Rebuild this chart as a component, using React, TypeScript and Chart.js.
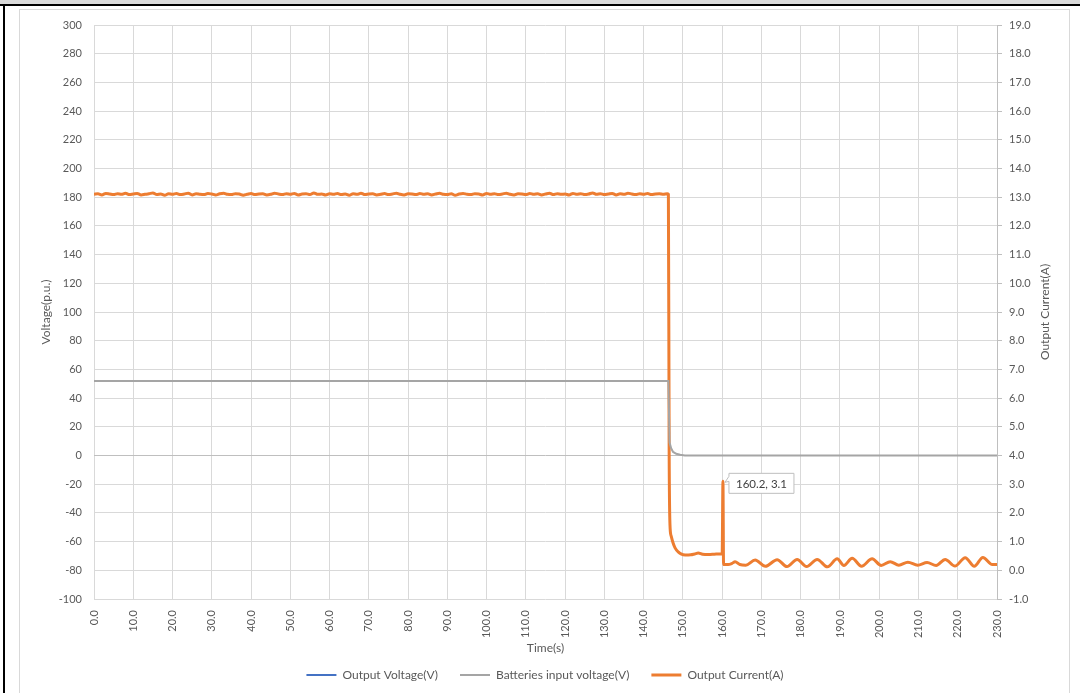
import React, { useEffect, useRef } from "react";
import { Chart, registerables } from "chart.js";

Chart.register(...registerables);

// ---------- data ----------
// Output current (A), one sample per second from 0 s to 146 s (steady state)
const currentSteadyValues: number[] = [
  13.10, 13.12, 13.08, 13.13, 13.11, 13.09, 13.12, 13.10, 13.14, 13.09,
  13.11, 13.13, 13.08, 13.10, 13.12, 13.15, 13.09, 13.11, 13.07, 13.12,
  13.10, 13.13, 13.09, 13.11, 13.14, 13.08, 13.12, 13.10, 13.09, 13.13,
  13.11, 13.08, 13.12, 13.14, 13.10, 13.09, 13.12, 13.11, 13.07, 13.10,
  13.13, 13.09, 13.11, 13.12, 13.08, 13.10, 13.14, 13.11, 13.09, 13.12,
  13.10, 13.13, 13.08, 13.11, 13.12, 13.09, 13.15, 13.10, 13.11, 13.08,
  13.12, 13.10, 13.13, 13.09, 13.11, 13.07, 13.12, 13.10, 13.14, 13.09,
  13.11, 13.12, 13.08, 13.10, 13.13, 13.09, 13.11, 13.14, 13.10, 13.08,
  13.12, 13.11, 13.09, 13.13, 13.10, 13.12, 13.08, 13.11, 13.14, 13.10,
  13.09, 13.12, 13.07, 13.11, 13.13, 13.10, 13.09, 13.12, 13.11, 13.08,
  13.13, 13.10, 13.12, 13.09, 13.11, 13.14, 13.10, 13.08, 13.12, 13.11,
  13.09, 13.13, 13.10, 13.12, 13.08, 13.11, 13.14, 13.09, 13.12, 13.10,
  13.11, 13.08, 13.13, 13.10, 13.12, 13.09, 13.11, 13.15, 13.10, 13.12,
  13.09, 13.11, 13.13, 13.08, 13.12, 13.10, 13.14, 13.11, 13.09, 13.12,
  13.10, 13.13, 13.09, 13.11, 13.12, 13.10, 13.12,
];

// Output current (A) after the fault, irregular time stamps (s)
const currentTransientTimes: number[] = [
  146.3, 146.5, 146.7, 147.0, 147.5, 148.0, 148.8, 149.5, 150.6, 152.0,
  153.0, 153.9, 155.0, 156.5, 158.0, 159.4, 160.0, 160.2, 160.35, 161.5,
  162.5, 163.3, 164.5, 166.0, 168.4, 171.0, 174.0, 176.5, 179.1, 181.5,
  184.2, 186.8, 189.3, 191.0, 193.1, 195.5, 198.2, 200.5, 202.8, 205.0,
  207.3, 209.8, 212.2, 214.5, 216.8, 219.3, 221.9, 224.2, 226.4, 228.8,
  230.0,
];
const currentTransientValues: number[] = [
  13.10, 4.00, 1.60, 1.20, 0.95, 0.78, 0.64, 0.57, 0.53, 0.54,
  0.57, 0.60, 0.56, 0.55, 0.56, 0.57, 0.57, 3.10, 0.20, 0.20,
  0.24, 0.30, 0.20, 0.18, 0.36, 0.14, 0.37, 0.13, 0.38, 0.13,
  0.38, 0.12, 0.40, 0.17, 0.42, 0.14, 0.40, 0.17, 0.30, 0.18,
  0.28, 0.18, 0.27, 0.17, 0.38, 0.15, 0.44, 0.14, 0.45, 0.20,
  0.20,
];

// Batteries input voltage (V)
const batteryTimes: number[] = [0, 146.3, 146.6, 147.0, 147.5, 148.3, 149.3, 150.5, 230];
const batteryValues: number[] = [52, 52, 9, 5, 2.5, 1.2, 0.5, 0, 0];

// Output voltage (V): no visible trace in the reference
const outputVoltageTimes: number[] = [];
const outputVoltageValues: number[] = [];

const seriesNames = ["Output Voltage(V)", "Batteries input voltage(V)", "Output Current(A)"];
const seriesColors = ["#4472C4", "#A5A5A5", "#ED7D31"];

const xAxisRange = { min: 0, max: 230, step: 10 };
const leftAxisRange = { min: -100, max: 300, step: 20 };
const rightAxisRange = { min: -1, max: 19, step: 1 };

const xAxisTitle = "Time(s)";
const leftAxisTitle = "Voltage(p.u.)";
const rightAxisTitle = "Output Current(A)";

const calloutPoint = { x: 160.2, y: 3.1 };
const calloutLabel = "160.2, 3.1";

// ---------- helpers ----------
const FONT = "Lato, 'Noto Sans', sans-serif";
const TEXT = "#595959";
const GRID = "#d9d9d9";

function zip(xs: number[], ys: number[]) {
  return xs.map((x, i) => ({ x, y: ys[i] }));
}

const overlayPlugin = {
  id: "overlay",
  afterDatasetsDraw(chart: any) {
    const { ctx, scales } = chart;
    const px = scales.x.getPixelForValue(calloutPoint.x);
    const py = scales.y1.getPixelForValue(calloutPoint.y);
    ctx.save();
    ctx.font = `11.5px ${FONT}`;
    const tw = ctx.measureText(calloutLabel).width;
    const x0 = px + 6;
    const y0 = py - 8;
    const w = tw + 14;
    const h = 20;
    ctx.beginPath();
    ctx.moveTo(x0, y0);
    ctx.lineTo(x0 + w, y0);
    ctx.lineTo(x0 + w, y0 + h);
    ctx.lineTo(x0, y0 + h);
    ctx.lineTo(x0, y0 + 8);
    ctx.lineTo(px + 2, py + 1);
    ctx.lineTo(x0, y0 + 3);
    ctx.closePath();
    ctx.fillStyle = "#ffffff";
    ctx.fill();
    ctx.strokeStyle = "#bfbfbf";
    ctx.lineWidth = 1;
    ctx.stroke();
    ctx.fillStyle = "#404040";
    ctx.textAlign = "left";
    ctx.textBaseline = "middle";
    ctx.fillText(calloutLabel, x0 + 7, y0 + h / 2 + 0.5);
    ctx.restore();
  },
  afterDraw(chart: any) {
    const { ctx, chartArea, scales } = chart;
    const sc = scales.y1;
    ctx.save();
    ctx.font = `12px ${FONT}`;
    ctx.fillStyle = TEXT;
    ctx.translate(sc.right - 25, (chartArea.top + chartArea.bottom) / 2);
    ctx.rotate(-Math.PI / 2);
    ctx.textAlign = "center";
    ctx.textBaseline = "middle";
    ctx.fillText(rightAxisTitle, 0, 0);
    ctx.restore();
  },
};

export default function App() {
  const canvasRef = useRef<HTMLCanvasElement | null>(null);

  useEffect(() => {
    if (!canvasRef.current) return;
    const currentData = [
      ...currentSteadyValues.map((v, i) => ({ x: i, y: v })),
      ...zip(currentTransientTimes, currentTransientValues),
    ];
    const chart = new Chart(canvasRef.current, {
      type: "line",
      data: {
        datasets: [
          {
            label: seriesNames[0],
            data: zip(outputVoltageTimes, outputVoltageValues),
            borderColor: seriesColors[0],
            backgroundColor: seriesColors[0],
            borderWidth: 2,
            pointRadius: 0,
            yAxisID: "y",
          },
          {
            label: seriesNames[1],
            data: zip(batteryTimes, batteryValues),
            borderColor: seriesColors[1],
            backgroundColor: seriesColors[1],
            borderWidth: 2,
            pointRadius: 0,
            yAxisID: "y",
          },
          {
            label: seriesNames[2],
            data: currentData,
            borderColor: seriesColors[2],
            backgroundColor: seriesColors[2],
            borderWidth: 3,
            pointRadius: 0,
            cubicInterpolationMode: "monotone",
            yAxisID: "y1",
          },
        ],
      },
      options: {
        animation: false,
        responsive: false,
        maintainAspectRatio: false,
        events: [],
        layout: { autoPadding: false, padding: { top: 15, left: 0, right: 0, bottom: 2 } },
        plugins: {
          tooltip: { enabled: false },
          legend: {
            display: true,
            position: "bottom",
            labels: {
              usePointStyle: true,
              pointStyle: "line",
              pointStyleWidth: 30,
              padding: 22,
              color: TEXT,
              font: { family: FONT, size: 12 },
            },
          },
        },
        scales: {
          x: {
            type: "linear",
            min: xAxisRange.min,
            max: xAxisRange.max,
            afterFit: (s: any) => {
              s.height = 48;
            },
            afterBuildTicks: (s: any) => {
              const t = [];
              for (let v = xAxisRange.min; v <= xAxisRange.max; v += xAxisRange.step) t.push({ value: v });
              s.ticks = t;
            },
            ticks: {
              autoSkip: false,
              minRotation: 90,
              maxRotation: 90,
              padding: 11,
              color: TEXT,
              font: { family: FONT, size: 11 },
              callback: (v: any) => Number(v).toFixed(1),
            },
            grid: { color: GRID, lineWidth: 1, drawTicks: false },
            border: { display: false },
            title: {
              display: true,
              text: xAxisTitle,
              color: TEXT,
              font: { family: FONT, size: 12 },
              padding: { top: 0, bottom: -8.2 },
            },
          },
          y: {
            type: "linear",
            position: "left",
            min: leftAxisRange.min,
            max: leftAxisRange.max,
            afterFit: (s: any) => {
              s.width = 74;
            },
            ticks: {
              stepSize: leftAxisRange.step,
              padding: 0,
              color: TEXT,
              font: { family: FONT, size: 11 },
            },
            grid: {
              drawTicks: true,
              tickLength: 12,
              tickColor: "rgba(0,0,0,0)",
              lineWidth: 1,
              color: (c: any) => (c.tick && c.tick.value === 0 ? "#bfbfbf" : GRID),
            },
            border: { display: false },
            title: {
              display: true,
              text: leftAxisTitle,
              color: TEXT,
              font: { family: FONT, size: 12 },
              padding: { top: 18.8, bottom: 0 },
            },
          },
          y1: {
            type: "linear",
            position: "right",
            min: rightAxisRange.min,
            max: rightAxisRange.max,
            afterFit: (s: any) => {
              s.width = 73;
            },
            ticks: {
              stepSize: rightAxisRange.step,
              padding: 7,
              color: TEXT,
              font: { family: FONT, size: 11 },
              callback: (v: any) => Number(v).toFixed(1),
            },
            grid: {
              drawOnChartArea: false,
              drawTicks: true,
              tickLength: 5,
              tickColor: "#bfbfbf",
            },
            border: { display: true, color: "#bfbfbf" },
          },
        },
      },
      plugins: [overlayPlugin],
    } as any);
    return () => chart.destroy();
  }, []);

  return (
    <div style={{ position: "fixed", left: 0, top: 0, width: 1080, height: 693, background: "#ffffff", overflow: "hidden" }}>
      <div style={{ position: "absolute", left: 0, top: 0, width: 1080, height: 4, background: "#dadada" }} />
      <div style={{ position: "absolute", left: 0, top: 4, width: 1080, height: 2, background: "#000000" }} />
      <div style={{ position: "absolute", left: 3, top: 4, width: 2, height: 689, background: "#000000" }} />
      <div
        style={{
          position: "absolute",
          left: 19,
          top: 9,
          width: 1051,
          height: 700,
          border: "1px solid #d9d9d9",
          boxSizing: "border-box",
        }}
      />
      <canvas
        ref={canvasRef}
        width={1050}
        height={683}
        style={{ position: "absolute", left: 20, top: 10, width: 1050, height: 683 }}
      />
    </div>
  );
}
